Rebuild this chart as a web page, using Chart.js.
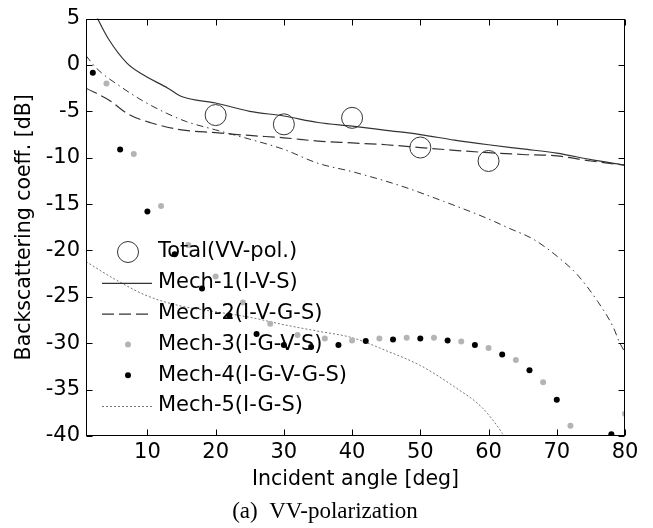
<!DOCTYPE html>
<html>
<head>
<meta charset="utf-8">
<script src="https://cdn.jsdelivr.net/npm/chart.js@4.4.1/dist/chart.umd.min.js"></script>
<style>
  html, body { margin: 0; padding: 0; background: #fff; }
  #wrap { width: 653px; height: 528px; }
</style>
</head>
<body>
<div id="wrap"><canvas id="chart" width="653" height="528"></canvas></div>
<script>
// values (angle in deg, backscattering in dB)
const totalAngles = [20, 30, 40, 50, 60];
const totalValues = [-5.4, -6.4, -5.7, -8.9, -10.35];

const mech1Angles = [1, 2.7, 4.3, 7, 9, 13, 15, 20, 25, 30, 35, 40, 45, 50, 55, 60, 65, 70, 75, 80];
const mech1Values = [7.6, 5.0, 2.8, 0.2, -0.9, -2.5, -3.4, -4.1, -5.0, -5.5, -6.2, -6.6, -7.05, -7.5, -8.1, -8.6, -9.05, -9.5, -10.2, -10.8];

const mech2Angles = [1, 4.4, 7.2, 10.6, 15, 20, 25, 30, 35, 40, 45, 50, 55, 60, 65, 70, 75, 80];
const mech2Values = [-2.5, -3.8, -5.3, -6.25, -7.0, -7.3, -7.6, -7.85, -8.2, -8.4, -8.6, -8.9, -9.2, -9.45, -9.65, -9.8, -10.35, -10.8];

const mech3Angles = [4, 8, 12, 16, 20, 24, 28, 32, 36, 40, 44, 48, 52, 56, 60, 64, 68, 72, 80];
const mech3Values = [-2.0, -9.6, -15.2, -19.4, -22.8, -25.6, -27.9, -29.1, -29.5, -29.7, -29.5, -29.4, -29.4, -29.8, -30.5, -31.8, -34.2, -38.9, -37.6];

const mech4Angles = [2, 6, 10, 14, 18, 22, 26, 30, 34, 38, 42, 46, 50, 54, 58, 62, 66, 70, 78];
const mech4Values = [-0.83, -9.1, -15.8, -20.4, -24.1, -27.0, -29.0, -30.2, -30.4, -30.2, -29.75, -29.6, -29.5, -29.7, -30.2, -31.2, -32.9, -36.1, -39.8];

const mech5Angles = [1, 5, 10, 15, 20, 25, 30, 35, 40, 45, 50, 55, 59, 62, 63];
const mech5Values = [-21.2, -23.0, -24.9, -26.0, -26.6, -27.2, -28.0, -28.7, -29.4, -30.8, -32.4, -34.7, -36.9, -39.7, -41.0];

// unlabelled dash-dot curve
const dashDotAngles = [1, 2.6, 6, 9.4, 12.8, 15.7, 20, 25, 30, 35, 40, 47, 53.4, 60, 63, 66.6, 70.5, 73, 76, 78.3, 79.1, 80];
const dashDotValues = [1.0, -0.4, -2.3, -3.9, -5.2, -6.1, -7.0, -8.0, -9.1, -10.6, -11.5, -13.0, -14.7, -16.6, -17.6, -18.8, -20.9, -22.6, -25.5, -28.3, -29.75, -31.0];

const xTickValues = [10, 20, 30, 40, 50, 60, 70, 80];
const yTickValues = [5, 0, -5, -10, -15, -20, -25, -30, -35, -40];

const toPoints = (xs, ys) => xs.map((x, i) => ({ x, y: ys[i] }));

const sans = 'DejaVu Sans';

const lineSet = (label, xs, ys, color, dash, width = 1) => ({
    label,
    data: toPoints(xs, ys),
    showLine: true,
    borderColor: color,
    borderWidth: width,
    borderDash: dash,
    pointRadius: 0,
    fill: false,
    cubicInterpolationMode: 'monotone',
});

const dotSet = (label, xs, ys, color, radius) => ({
    label,
    data: toPoints(xs, ys),
    showLine: false,
    pointRadius: radius,
    pointBackgroundColor: color,
    pointBorderColor: color,
    pointBorderWidth: 0,
});

// box round the plot with inward tick marks, MATLAB style
const framePlugin = {
    id: 'frame',
    afterDatasetsDraw(chart) {
        const { ctx, chartArea: a, scales: { x, y } } = chart;
        const left = Math.round(a.left) + 0.5;
        const top = Math.round(a.top) + 0.5;
        const right = Math.round(a.right) - 0.5;
        const bottom = Math.round(a.bottom) - 0.5;
        const len = 6;

        ctx.save();
        ctx.strokeStyle = '#000';
        ctx.lineWidth = 1;
        ctx.setLineDash([]);
        ctx.strokeRect(left, top, right - left, bottom - top);

        ctx.beginPath();
        x.ticks.forEach((t) => {
            const px = Math.round(x.getPixelForValue(t.value)) + 0.5;
            ctx.moveTo(px, bottom);
            ctx.lineTo(px, bottom - len);
            ctx.moveTo(px, top);
            ctx.lineTo(px, top + len);
        });
        y.ticks.forEach((t) => {
            const py = Math.round(y.getPixelForValue(t.value)) + 0.5;
            ctx.moveTo(left, py);
            ctx.lineTo(left + len, py);
            ctx.moveTo(right, py);
            ctx.lineTo(right - len, py);
        });
        ctx.stroke();
        ctx.restore();
    },
};

// transparent legend drawn inside the plot, plus the caption under the chart
const legendPlugin = {
    id: 'insideLegend',
    afterDraw(chart) {
        const { ctx } = chart;
        const items = chart.data.datasets.filter((d) => d.label);
        const sampleLeft = 102;
        const sampleRight = 152;
        const textLeft = 158;
        let rowY = 252;

        ctx.save();
        items.forEach((d) => {
            if (d.showLine) {
                ctx.strokeStyle = d.borderColor;
                ctx.lineWidth = d.borderWidth;
                ctx.setLineDash(d.borderDash || []);
                ctx.beginPath();
                ctx.moveTo(sampleLeft, rowY + 0.5);
                ctx.lineTo(sampleRight, rowY + 0.5);
                ctx.stroke();
            } else {
                ctx.setLineDash([]);
                ctx.beginPath();
                ctx.arc((sampleLeft + sampleRight) / 2 + 1, rowY, d.pointRadius, 0, Math.PI * 2);
                if (d.pointBorderWidth > 0) {
                    ctx.strokeStyle = d.pointBorderColor;
                    ctx.lineWidth = d.pointBorderWidth;
                    ctx.stroke();
                } else {
                    ctx.fillStyle = d.pointBackgroundColor;
                    ctx.fill();
                }
            }
            ctx.fillStyle = '#000';
            ctx.font = `21px "${sans}"`;
            ctx.textAlign = 'left';
            ctx.textBaseline = 'middle';
            ctx.fillText(d.label, textLeft, rowY);
            rowY += 30.8;
        });

        ctx.font = '23px "Liberation Serif"';
        ctx.textAlign = 'center';
        ctx.fillText('(a)  VV-polarization', 325, 512);
        ctx.restore();
    },
};

new Chart(document.getElementById('chart'), {
    type: 'scatter',
    data: {
        datasets: [
            {
                label: 'Total(VV-pol.)',
                data: toPoints(totalAngles, totalValues),
                showLine: false,
                pointRadius: 10.5,
                pointBackgroundColor: 'rgba(0,0,0,0)',
                pointBorderColor: '#333',
                pointBorderWidth: 1,
            },
            lineSet('Mech-1(I-V-S)', mech1Angles, mech1Values, '#333', [], 1.2),
            lineSet('Mech-2(I-V-G-S)', mech2Angles, mech2Values, '#333', [12, 5], 1.2),
            dotSet('Mech-3(I-G-V-S)', mech3Angles, mech3Values, '#b4b4b4', 3),
            dotSet('Mech-4(I-G-V-G-S)', mech4Angles, mech4Values, '#000', 3),
            lineSet('Mech-5(I-G-S)', mech5Angles, mech5Values, '#777', [2, 2], 1),
            lineSet('', dashDotAngles, dashDotValues, '#333', [7, 4, 1.5, 4], 1),
        ],
    },
    options: {
        responsive: false,
        animation: false,
        devicePixelRatio: 1,
        layout: { padding: { left: 0, top: 15, right: 28, bottom: 36 } },
        plugins: {
            legend: { display: false },
            tooltip: { enabled: false },
        },
        scales: {
            x: {
                type: 'linear',
                min: 1,
                max: 80,
                afterBuildTicks: (scale) => { scale.ticks = xTickValues.map((v) => ({ value: v })); },
                afterFit: (scale) => { scale.height = 56; },
                grid: { display: false, drawTicks: false },
                border: { display: false },
                ticks: { color: '#000', padding: 4, font: { family: sans, size: 21 }, maxRotation: 0 },
                title: {
                    display: true,
                    text: 'Incident angle [deg]',
                    color: '#000',
                    font: { family: sans, size: 20.5 },
                    padding: { top: 0, bottom: 0 },
                },
            },
            y: {
                type: 'linear',
                min: -40,
                max: 5,
                afterBuildTicks: (scale) => { scale.ticks = yTickValues.map((v) => ({ value: v })); },
                afterFit: (scale) => { scale.width = 86; },
                grid: { display: false, drawTicks: false },
                border: { display: false },
                ticks: {
                    color: '#000',
                    padding: 6,
                    font: { family: sans, size: 21 },
                    callback: (v) => String(v),
                },
                title: {
                    display: true,
                    text: 'Backscattering coeff. [dB]',
                    color: '#000',
                    font: { family: sans, size: 20.5 },
                    padding: { top: 12, bottom: 0 },
                },
            },
        },
    },
    plugins: [framePlugin, legendPlugin],
});
</script>
</body>
</html>
